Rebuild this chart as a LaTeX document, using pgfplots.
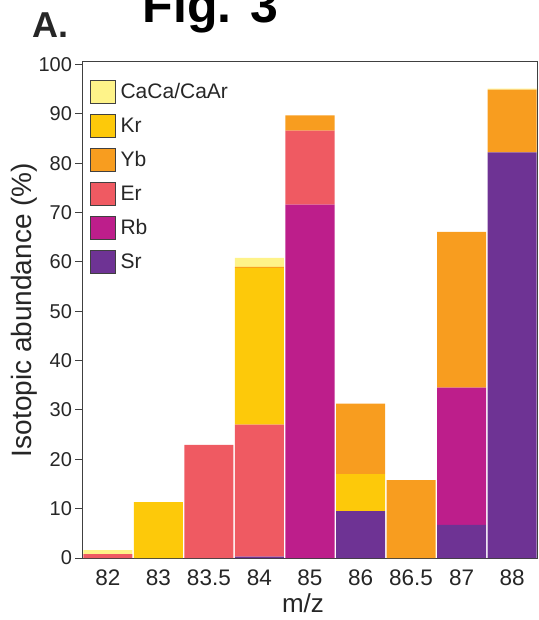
\documentclass[border=0pt]{standalone}
\usepackage{fontspec}
\setmainfont{Liberation Sans}
\usepackage{pgfplots}
\pgfplotsset{compat=1.18}
\definecolor{cacol}{HTML}{FEF389}
\definecolor{krcol}{HTML}{FDC90A}
\definecolor{ybcol}{HTML}{F89D1F}
\definecolor{ercol}{HTML}{EF5A62}
\definecolor{rbcol}{HTML}{BD1E8B}
\definecolor{srcol}{HTML}{6E3394}
\begin{document}
\begin{tikzpicture}
\useasboundingbox (-82.5bp,-62bp) rectangle (456.5bp,558bp);
\begin{axis}[
  at={(0,0)}, anchor=south west,
  scale only axis, width=455bp, height=496bp,
  ybar stacked, bar width=0.97,
  xmin=-0.5, xmax=8.5, ymin=0, ymax=100.5,
  xtick={0,1,2,3,4,5,6,7,8},
  xticklabels={82,83,83.5,84,85,86,86.5,87,88},
  ytick={0,10,...,100},
  /pgf/number format/assume math mode=true,
  axis line style={draw=black!75, line width=1pt},
  ytick pos=left, tick align=outside,
  major x tick style={draw=none},
  major y tick style={draw=black!75, line width=1pt},
  major tick length=7bp,
  xticklabel style={font=\fontsize{22.5bp}{26bp}\selectfont, text=black!85, anchor=base, yshift=-20bp},
  yticklabel style={font=\fontsize{20bp}{24bp}\selectfont, text=black!85},
  xlabel={m/z},
  ylabel={Isotopic abundance (\%)},
  xlabel style={font=\fontsize{26bp}{30bp}\selectfont, text=black!85, at={(rel axis cs:0.5,0)}, anchor=base, yshift=-54bp, xshift=-7bp},
  ylabel style={font=\fontsize{28bp}{32bp}\selectfont, text=black!85, at={(rel axis cs:0,0.5)}, anchor=center, yshift=58bp},
  legend cell align=left,
  legend style={at={(rel axis cs:0,1)}, anchor=north west, xshift=4bp, yshift=-16bp,
    draw=none, fill=none, font=\fontsize{21bp}{24bp}\selectfont, text=black!85,
    nodes={inner sep=0pt}, row sep=10bp,
    /tikz/every odd column/.append style={column sep=5bp}},
  legend image code/.code={\draw[#1, draw=black!75, line width=0.9pt] (0bp,-11.5bp) rectangle (25bp,11.5bp);},
]
\addlegendimage{fill=cacol}
\addlegendentry{CaCa/CaAr}
\addlegendimage{fill=krcol}
\addlegendentry{Kr}
\addlegendimage{fill=ybcol}
\addlegendentry{Yb}
\addlegendimage{fill=ercol}
\addlegendentry{Er}
\addlegendimage{fill=rbcol}
\addlegendentry{Rb}
\addlegendimage{fill=srcol}
\addlegendentry{Sr}
% stacking order: Sr, Rb, Er, Kr, Yb, CaCa
\addplot[fill=srcol, draw=none, forget plot] coordinates {(0,0) (1,0) (2,0) (3,0.3) (4,0) (5,9.5) (6,0) (7,6.7) (8,82.2)};
\addplot[fill=rbcol, draw=none, forget plot] coordinates {(0,0) (1,0) (2,0) (3,0) (4,71.6) (5,0) (6,0) (7,27.8) (8,0)};
\addplot[fill=ercol, draw=none, forget plot] coordinates {(0,0.8) (1,0) (2,22.9) (3,26.7) (4,15.0) (5,0) (6,0) (7,0) (8,0)};
\addplot[fill=krcol, draw=none, forget plot] coordinates {(0,0) (1,11.3) (2,0) (3,31.8) (4,0) (5,7.5) (6,0) (7,0) (8,0)};
\addplot[fill=ybcol, draw=none, forget plot] coordinates {(0,0) (1,0) (2,0) (3,0.2) (4,3.1) (5,14.3) (6,15.8) (7,31.6) (8,12.7)};
\addplot[fill=cacol, draw=none, forget plot] coordinates {(0,0.8) (1,0) (2,0) (3,1.8) (4,0) (5,0) (6,0) (7,0) (8,0.2)};
\end{axis}
\node[anchor=base west, inner sep=0pt, font=\fontsize{36bp}{40bp}\selectfont\bfseries, text=black!85] at (-50bp,520bp) {A.};
\node[anchor=base west, inner sep=0pt, font=\fontsize{50bp}{56bp}\selectfont\bfseries] at (60bp,535bp) {Fig. 3};
\end{tikzpicture}
\end{document}
